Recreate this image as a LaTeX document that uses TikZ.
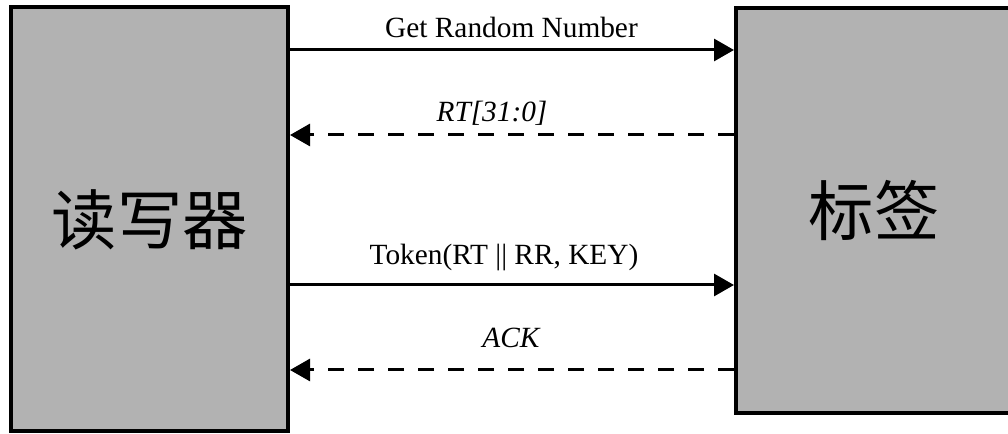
\documentclass[tikz,border=0pt]{standalone}
\usepackage{fontspec}
\setmainfont{Liberation Serif}
\newfontfamily\cjk{Noto Sans CJK SC}
\usetikzlibrary{arrows.meta}
\definecolor{boxgray}{HTML}{B2B2B2}
\begin{document}
\begin{tikzpicture}[x=0.75pt,y=-0.75pt,
  box/.style={draw=black, line width=3pt, fill=boxgray, inner sep=0pt,
              font=\cjk\fontsize{49}{49}\selectfont},
  msg/.style={line width=2.25pt, -{Triangle[length=15pt,width=16.5pt]}},
  reply/.style={msg, dash pattern=on 12pt off 10.5pt},
  lbl/.style={anchor=base, inner sep=0pt, font=\fontsize{22}{22}\selectfont}]
\useasboundingbox (0,0) rectangle (1008,434);
\node[box, minimum width=207.4pt, minimum height=318pt] (reader) at (149.75,219.5) {读写器};
\node[box, minimum width=207pt, minimum height=303.75pt] (tag) at (874,210.5) {标签};
\draw[msg]   (reader.east |- 0,50)  -- (tag.west |- 0,50);
\draw[reply] (tag.west |- 0,135)    -- (reader.east |- 0,135);
\draw[msg]   (reader.east |- 0,285) -- (tag.west |- 0,285);
\draw[reply] (tag.west |- 0,370)    -- (reader.east |- 0,370);
\node[lbl] (m1) at (511.5,38) {Get Random Number};
\node[lbl] (m2) at (492,122) {\itshape RT[31:0]};
\node[lbl] (m3) at (504,265) {Token(RT || RR, KEY)};
\node[lbl] (m4) at (511,348) {\itshape ACK};
\end{tikzpicture}
\end{document}
